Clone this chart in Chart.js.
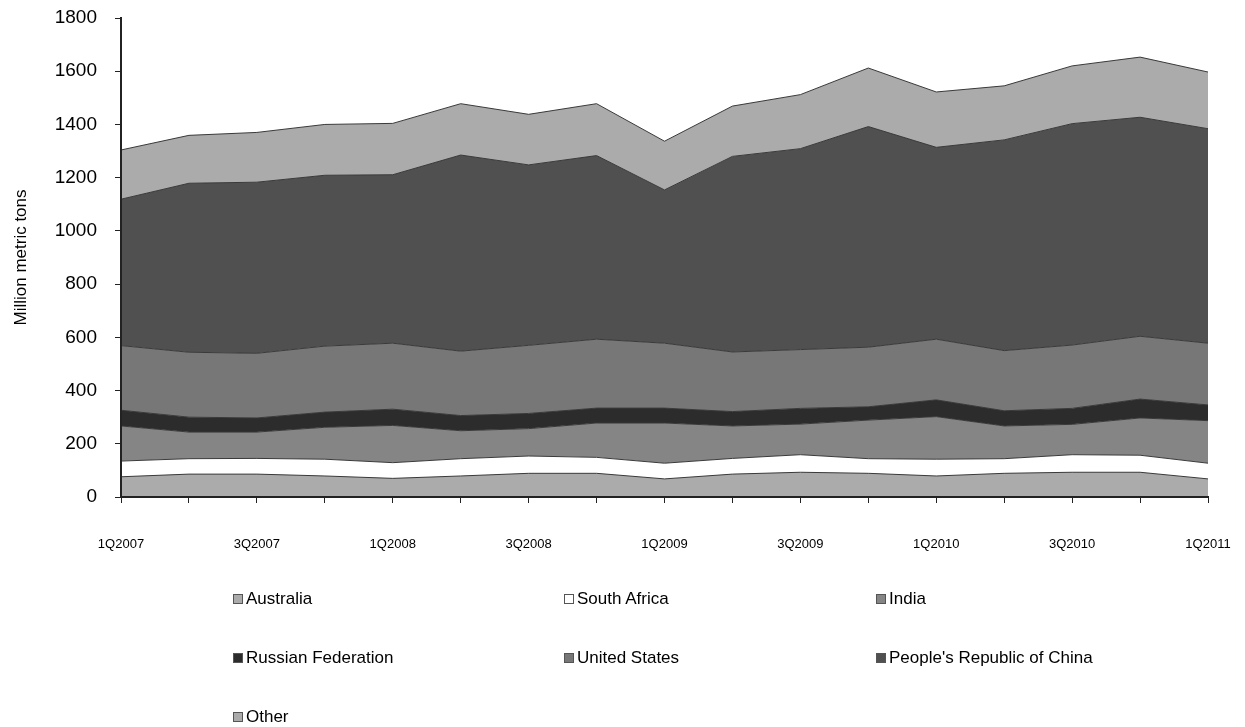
<!DOCTYPE html>
<html>
<head>
<meta charset="utf-8">
<script src="https://cdn.jsdelivr.net/npm/chart.js@4.4.1/dist/chart.umd.min.js"></script>
<style>
  body { margin: 0; background: #fff; font-family: "Liberation Sans", Arial, sans-serif; }
  #wrap { position: relative; width: 1245px; height: 727px; }
  .lg { position: absolute; display: flex; align-items: center; font-size: 17px; color: #000; white-space: nowrap; }
  .lg span.box { display: inline-block; width: 8px; height: 8px; border: 1px solid #555; margin-right: 3px; }
</style>
</head>
<body>
<div id="wrap">
  <canvas id="myChart" width="1245" height="727"></canvas>
  <div id="legend"></div>
</div>
<script>
const quarters = ['1Q2007', '2Q2007', '3Q2007', '4Q2007', '1Q2008', '2Q2008', '3Q2008', '4Q2008',
    '1Q2009', '2Q2009', '3Q2009', '4Q2009', '1Q2010', '2Q2010', '3Q2010', '4Q2010', '1Q2011'];

const australia = [76, 86, 86, 79, 70, 79, 89, 89, 68, 86, 93, 89, 79, 89, 93, 93, 68];
const southAfrica = [59, 58, 59, 63, 59, 65, 65, 60, 59, 59, 66, 55, 63, 55, 66, 64, 59];
const india = [132, 100, 99, 120, 140, 105, 103, 129, 151, 122, 115, 145, 160, 123, 114, 140, 160];
const russia = [59, 56, 53, 57, 61, 57, 57, 56, 56, 54, 59, 50, 63, 57, 60, 71, 59];
const unitedStates = [243, 244, 243, 248, 248, 242, 256, 259, 244, 224, 221, 224, 228, 226, 238, 236, 232];
const china = [550, 635, 643, 642, 633, 737, 678, 690, 576, 735, 755, 829, 721, 792, 832, 823, 806];
const other = [185, 180, 187, 191, 193, 193, 190, 195, 183, 189, 203, 220, 208, 203, 217, 226, 213];

const yTicks = [0, 200, 400, 600, 800, 1000, 1200, 1400, 1600, 1800];

const series = [
    { label: 'Australia', data: australia, color: '#ababab' },
    { label: 'South Africa', data: southAfrica, color: '#ffffff' },
    { label: 'India', data: india, color: '#858585' },
    { label: 'Russian Federation', data: russia, color: '#2c2c2c' },
    { label: 'United States', data: unitedStates, color: '#777777' },
    { label: "People's Republic of China", data: china, color: '#505050' },
    { label: 'Other', data: other, color: '#ababab' }
];

const ctx = document.getElementById('myChart');

new Chart(ctx, {
    type: 'line',
    data: {
        labels: quarters,
        datasets: series.map((s, i) => ({
            label: s.label,
            data: s.data,
            backgroundColor: s.color,
            borderColor: '#3a3a3a',
            borderWidth: 1,
            pointRadius: 0,
            tension: 0,
            fill: i === 0 ? 'origin' : '-1'
        }))
    },
    options: {
        responsive: false,
        animation: false,
        devicePixelRatio: 1,
        layout: { padding: { top: 18, right: 37, left: 0, bottom: 0 } },
        plugins: {
            legend: { display: false },
            tooltip: { enabled: false }
        },
        scales: {
            x: {
                grid: { display: true, drawOnChartArea: false, drawTicks: true, tickLength: 6, color: '#222', z: 1 },
                border: { display: true, color: '#222', width: 2, z: 1 },
                ticks: {
                    autoSkip: false,
                    maxRotation: 0,
                    padding: 34,
                    color: '#000',
                    font: { family: 'Liberation Sans', size: 13 },
                    callback: function (v, i) { return i % 2 === 0 ? quarters[i] : ''; }
                },
                afterFit: function (axis) {
                    axis.height = 230;
                    axis.paddingLeft = 0;
                    axis.paddingRight = 0;
                }
            },
            y: {
                stacked: true,
                min: 0,
                max: 1800,
                afterBuildTicks: function (axis) { axis.ticks = yTicks.map(v => ({ value: v })); },
                grid: { display: true, drawOnChartArea: false, drawTicks: true, tickLength: 6, color: '#222', z: 1 },
                border: { display: true, color: '#222', width: 2, z: 1 },
                ticks: {
                    padding: 18,
                    color: '#000',
                    font: { family: 'Liberation Sans', size: 19 },
                    callback: function (v) { return String(v); }
                },
                title: {
                    display: true,
                    text: 'Million metric tons',
                    color: '#000',
                    font: { family: 'Liberation Sans', size: 17 },
                    padding: { top: 11, bottom: 0 }
                },
                afterFit: function (axis) {
                    axis.width = 121;
                    axis.paddingTop = 0;
                    axis.paddingBottom = 0;
                }
            }
        }
    }
});

// legend in three columns like the original
const cols = [233, 564, 876];
const rows = [599, 658, 717];
const legendBox = document.getElementById('legend');
series.forEach((s, i) => {
    const d = document.createElement('div');
    d.className = 'lg';
    d.style.left = cols[i % 3] + 'px';
    d.style.top = (rows[Math.floor(i / 3)] - 10) + 'px';
    d.style.height = '20px';
    d.innerHTML = '<span class="box" style="background:' + s.color + '"></span>' + s.label.replace(/'/g, '&#39;');
    legendBox.appendChild(d);
});
</script>
</body>
</html>
